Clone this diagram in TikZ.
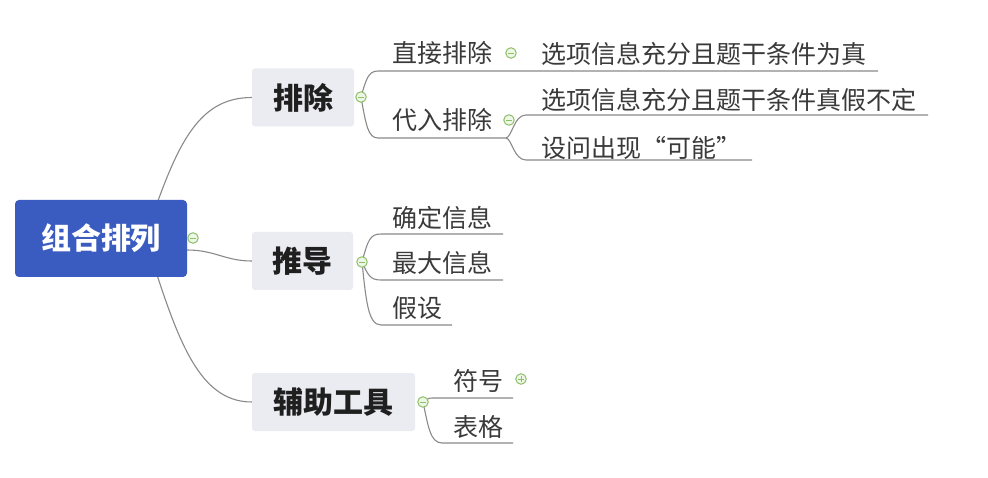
\documentclass[tikz,border=0pt]{standalone}
\usepackage{fontspec}
\setmainfont{Noto Sans CJK SC}
\usetikzlibrary{backgrounds}
\definecolor{rootblue}{HTML}{3A5BBF}
\definecolor{boxfill}{HTML}{EBEBF2}
\definecolor{linegray}{HTML}{8A8A8A}
\definecolor{togglegreen}{HTML}{8CC06A}
\definecolor{togglefill}{HTML}{EEF6E6}
\definecolor{txt}{HTML}{3A3A3A}
\tikzset{
  rootbox/.style={fill=rootblue, rounded corners=4pt, text=white, font=\fontsize{30}{34}\selectfont\bfseries, minimum width=172pt, minimum height=77pt, inner sep=0pt},
  subbox/.style={fill=boxfill, rounded corners=3pt, text=black!88, font=\fontsize{30}{34}\selectfont\bfseries, minimum height=58pt, inner sep=0pt},
  leaf/.style={font=\fontsize{25}{28}\selectfont, text=txt, inner sep=0pt, anchor=west},
  conn/.style={draw=linegray, line width=1.1pt},
  toggleminus/.style={circle, draw=togglegreen, fill=togglefill, line width=1pt, minimum size=10.5pt, inner sep=0pt,
    path picture={\draw[togglegreen, line width=0.9pt] ([xshift=2.2pt]path picture bounding box.west) -- ([xshift=-2.2pt]path picture bounding box.east);}},
  toggleplus/.style={toggleminus,
    path picture={\draw[togglegreen, line width=0.9pt] ([xshift=2.2pt]path picture bounding box.west) -- ([xshift=-2.2pt]path picture bounding box.east)
      ([yshift=-2.2pt]path picture bounding box.north) -- ([yshift=2.2pt]path picture bounding box.south);}}
}
\begin{document}
\begin{tikzpicture}[x=1pt, y=-1pt]
\useasboundingbox (0,0) rectangle (988,478);

% main nodes
\node[rootbox] (root) at (101,238.5) {组合排列};
\node[subbox, minimum width=102pt] (pc) at (303,97.5) {排除};
\node[subbox, minimum width=101pt] (td) at (302.5,261) {推导};
\node[subbox, minimum width=163pt] (fz) at (333.5,402) {辅助工具};

% toggles
\node[toggleminus] (troot) at (193,238) {};
\node[toggleminus] (tpc) at (361,97) {};
\node[toggleminus] (ttd) at (362,262) {};
\node[toggleminus] (tfz) at (423,402) {};
\node[toggleminus] (tzj) at (511,53) {};
\node[toggleminus] (tdr) at (509,120) {};
\node[toggleplus] (tfh) at (521,379) {};

% leaves
\node[leaf] (zj) at (392,53) {直接排除};
\node[leaf] (dr) at (392,120) {代入排除};
\node[leaf] (zj1) at (541,54) {选项信息充分且题干条件为真};
\node[leaf] (dr1) at (541,100) {选项信息充分且题干条件真假不定};
\node[leaf] (dr2) at (541,148) {设问出现“可能”};
\node[leaf] (qd) at (392,218) {确定信息};
\node[leaf] (zd) at (392,263) {最大信息};
\node[leaf] (js) at (392,308) {假设};
\node[leaf] (fh) at (453,381) {符号};
\node[leaf] (bg) at (453,427) {表格};

% underline coordinates
\coordinate (zjA) at (378,71);  \coordinate (zjB) at (878,71);
\coordinate (drA) at (378,138); \coordinate (drB) at (506,138);
\coordinate (dr1A) at (526,115); \coordinate (dr1B) at (928,115);
\coordinate (dr2A) at (526,160); \coordinate (dr2B) at (752,160);
\coordinate (qdA) at (381,234); \coordinate (qdB) at (503,234);
\coordinate (zdA) at (381,280); \coordinate (zdB) at (503,280);
\coordinate (jsA) at (381,325); \coordinate (jsB) at (452,325);
\coordinate (fhA) at (432,398); \coordinate (fhB) at (513,398);
\coordinate (bgA) at (442,443); \coordinate (bgB) at (513,443);
\coordinate (rootS) at (145,238);
\coordinate (rootE) at (187,250);

\begin{scope}[on background layer]
  \fill[white] (0,0) rectangle (988,478);
  \draw[conn] (rootS) .. controls (175,150) and (195,97.5) .. (pc.west);
  \draw[conn] (rootS) .. controls (175,330) and (195,402) .. (fz.west);
  \draw[conn] (rootE) .. controls (215,250) and (225,261) .. (td.west);
  % branches of 排除
  \draw[conn] (tpc.center) .. controls (366,80) and (368,71) .. (zjA) -- (zjB);
  \draw[conn] (tpc.center) .. controls (366,125) and (368,138) .. (drA) -- (drB);
  \draw[conn] (drB) .. controls (512,137) and (514,115) .. (dr1A) -- (dr1B);
  \draw[conn] (drB) .. controls (512,139) and (514,160) .. (dr2A) -- (dr2B);
  % branches of 推导
  \draw[conn] (ttd.center) .. controls (368,240) and (370,234) .. (qdA) -- (qdB);
  \draw[conn] (ttd.center) .. controls (368,275) and (370,280) .. (zdA) -- (zdB);
  \draw[conn] (ttd.center) .. controls (366,300) and (368,325) .. (jsA) -- (jsB);
  % branches of 辅助工具
  \draw[conn] (tfz.center) .. controls (426,400) and (428,398) .. (fhA) -- (fhB);
  \draw[conn] (tfz.center) .. controls (428,425) and (430,443) .. (bgA) -- (bgB);
\end{scope}
\end{tikzpicture}
\end{document}
